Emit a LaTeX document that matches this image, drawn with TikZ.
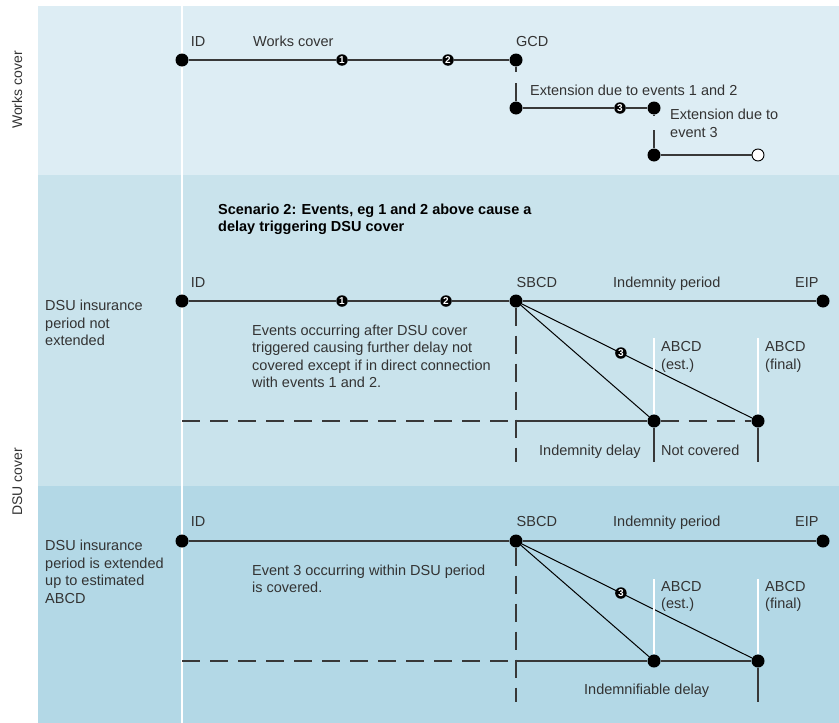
\documentclass[tikz,border=0pt]{standalone}
\usepackage{fontspec}
\setmainfont{Liberation Sans}
\definecolor{pA}{HTML}{DDEDF4}
\definecolor{pB}{HTML}{C9E3EC}
\definecolor{pC}{HTML}{B3D8E6}
\definecolor{ink}{HTML}{383838}
\definecolor{tx}{HTML}{333333}
\begin{document}
\begin{tikzpicture}[x=1pt,y=-1pt,
 dot/.style={circle,fill=black,inner sep=0pt,minimum size=13pt},
 odot/.style={circle,fill=white,draw=black,line width=0.9pt,inner sep=0pt,minimum size=12pt},
 ev/.style={circle,fill=black,inner sep=0pt,minimum size=11.5pt,text=white,font=\bfseries\fontsize{10}{10}\selectfont},
 lbl/.style={anchor=base west,inner sep=0pt,text=tx,font=\fontsize{14.5}{17.5}\selectfont,align=left},
 bold/.style={anchor=base west,inner sep=0pt,text=black,font=\bfseries\fontsize{14.5}{17}\selectfont,align=left},
 side/.style={anchor=base,inner sep=0pt,rotate=90,text=tx,font=\fontsize{14}{14}\selectfont},
 tl/.style={draw=ink,line width=1.3pt},
 dl/.style={draw=ink,line width=1.2pt,dash pattern=on 18pt off 10pt},
 diag/.style={draw=black,line width=1pt},
 wl/.style={draw=white,line width=1.6pt},
]
\useasboundingbox (0,0) rectangle (839,723);
% panels
\fill[pA] (38,6) rectangle (839,175);
\fill[pB] (38,175) rectangle (839,486);
\fill[pC] (38,486) rectangle (839,723);
\draw[wl] (182,6) -- (182,723);

% side labels
\node[side] (swc) at (22,90) {Works cover};
\node[side] (sdsu) at (22,482) {DSU cover};

% ---------- Works cover ----------
\node[dot] (id1) at (182,60) {};
\node[ev] (e11) at (342,60) {1};
\node[ev] (e12) at (448,60) {2};
\node[dot] (gcd) at (516,60) {};
\draw[tl] (id1) -- (e11) -- (e12) -- (gcd);
\coordinate (g1) at (516,72);
\coordinate (g2) at (516,83);
\node[dot] (x1) at (516,108) {};
\draw[tl] (gcd) -- (g1);
\draw[tl] (g2) -- (x1);
\node[ev] (e13) at (620,108) {3};
\node[dot] (x2) at (654,108) {};
\draw[tl] (x1) -- (e13) -- (x2);
\coordinate (h1) at (654,116);
\coordinate (h2) at (654,130);
\node[dot] (x3) at (654,155) {};
\draw[tl] (x2) -- (h1);
\draw[tl] (h2) -- (x3);
\node[odot] (x4) at (758,155) {};
\draw[tl] (x3) -- (x4);

\node[lbl] (tid1) at (190.7,46.7) {ID};
\node[lbl] (twc) at (253,46.7) {Works cover};
\node[lbl] (tgcd) at (516,46.7) {GCD};
\node[lbl] (text12) at (530,95) {Extension due to events 1 and 2};
\node[lbl] (text3) at (670,137) {Extension due to\\event 3};

% ---------- Scenario 2 ----------
\node[bold] (scen) at (218,231.5) {Scenario 2: Events, eg 1 and 2 above cause a\\delay triggering DSU cover};

\node[dot] (id2) at (182,301) {};
\node[ev] (e21) at (342,301) {1};
\node[ev] (e22) at (446,301) {2};
\node[dot] (sb2) at (516,301) {};
\node[dot] (eip2) at (823,301) {};
\node[dot] (a2) at (654,421) {};
\node[dot] (f2) at (758,421) {};
\draw[tl] (id2) -- (e21) -- (e22) -- (sb2) -- (eip2);
\draw[diag] (sb2) -- (a2);
\draw[diag] (sb2) -- node[ev,pos=0.43] (e23) {3} (f2);
\coordinate (wa2) at (654,338);
\coordinate (wf2) at (758,338);
\draw[wl] (wa2) -- (a2);
\draw[wl] (wf2) -- (f2);
\coordinate (l2) at (182,421);
\coordinate (m2) at (516,421);
\coordinate (v2) at (516,462);
\coordinate (va2) at (654,462);
\coordinate (vf2) at (758,462);
\draw[dl] (l2) -- (m2);
\draw[tl] (m2) -- (a2);
\draw[dl] (a2) -- (f2);
\draw[dl] (sb2) -- (v2);
\draw[tl] (a2) -- (va2);
\draw[tl] (f2) -- (vf2);

\node[lbl] (tid2) at (190.7,287) {ID};
\node[lbl] (tsb2) at (516.5,287) {SBCD};
\node[lbl] (tip2) at (613,287) {Indemnity period};
\node[lbl] (teip2) at (795,287) {EIP};
\node[lbl] (tdsu2) at (45,345.7) {DSU insurance\\period not\\extended};
\node[lbl] (tev2) at (252,387.5) {Events occurring after DSU cover\\triggered causing further delay not\\covered except if in direct connection\\with events 1 and 2.};
\node[lbl] (tae2) at (661,369.2) {ABCD\\(est.)};
\node[lbl] (taf2) at (765,369.2) {ABCD\\(final)};
\node[lbl] (tind2) at (539,455) {Indemnity delay};
\node[lbl] (tnc2) at (661,455) {Not covered};

% ---------- Extended ----------
\node[dot] (id3) at (182,541) {};
\node[dot] (sb3) at (516,541) {};
\node[dot] (eip3) at (823,541) {};
\node[dot] (a3) at (654,661) {};
\node[dot] (f3) at (758,661) {};
\draw[tl] (id3) -- (sb3) -- (eip3);
\draw[diag] (sb3) -- (a3);
\draw[diag] (sb3) -- node[ev,pos=0.43] (e33) {3} (f3);
\coordinate (wa3) at (654,579);
\coordinate (wf3) at (758,579);
\draw[wl] (wa3) -- (a3);
\draw[wl] (wf3) -- (f3);
\coordinate (l3) at (182,661);
\coordinate (m3) at (516,661);
\coordinate (v3) at (516,702);
\coordinate (vf3) at (758,702);
\draw[dl] (l3) -- (m3);
\draw[tl] (m3) -- (a3) -- (f3);
\draw[dl] (sb3) -- (v3);
\draw[tl] (f3) -- (vf3);

\node[lbl] (tid3) at (190.7,526.7) {ID};
\node[lbl] (tsb3) at (516.5,526.7) {SBCD};
\node[lbl] (tip3) at (613,526.7) {Indemnity period};
\node[lbl] (teip3) at (795,526.7) {EIP};
\node[lbl] (tdsu3) at (45,603.2) {DSU insurance\\period is extended\\up to estimated\\ABCD};
\node[lbl] (tev3) at (252,592.5) {Event 3 occurring within DSU period\\is covered.};
\node[lbl] (tae3) at (661,608.5) {ABCD\\(est.)};
\node[lbl] (taf3) at (765,608.5) {ABCD\\(final)};
\node[lbl] (tind3) at (584,694) {Indemnifiable delay};
\end{tikzpicture}
\end{document}
